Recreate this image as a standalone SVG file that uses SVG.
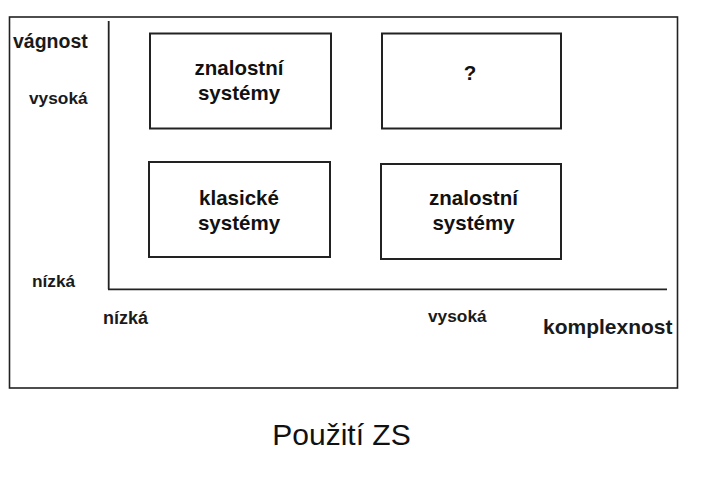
<svg xmlns="http://www.w3.org/2000/svg" width="710" height="477" viewBox="0 0 710 477">
<style>
.frame{fill:none;stroke:#222;stroke-width:1.6}
.box{fill:#fff;stroke:#222;stroke-width:2}
.axis{fill:none;stroke:#222;stroke-width:1.8}
.bl{font-family:"Liberation Sans",Arial,sans-serif;font-weight:bold;fill:#1a1a1a}
.bt{font-family:"Liberation Sans",Arial,sans-serif;font-weight:bold;font-size:20.5px;fill:#111;text-anchor:middle}
.cap{font-family:"Liberation Sans",Arial,sans-serif;font-size:30px;fill:#111;text-anchor:middle}
</style>
<rect width="710" height="477" fill="#fff"/>
<rect class="frame" x="9.5" y="17" width="668" height="371"/>
<g id="axes">
<line class="axis" x1="108.7" y1="21" x2="108.7" y2="289.3"/>
<line class="axis" x1="108" y1="289.3" x2="667" y2="289.3"/>
</g>
<g id="labels">
<text class="bl" x="13" y="48" font-size="19.5">vágnost</text>
<text class="bl" x="29" y="104" font-size="17.3">vysoká</text>
<text class="bl" x="32" y="287" font-size="17.3">nízká</text>
<text class="bl" x="103" y="324" font-size="18">nízká</text>
<text class="bl" x="428" y="322" font-size="17.3">vysoká</text>
<text class="bl" x="543" y="334" font-size="21">komplexnost</text>
</g>
<g id="node-zs-top">
<rect class="box" x="150" y="33.5" width="181" height="95"/>
<text class="bt" x="239" y="75">znalostní</text>
<text class="bt" x="239" y="100">systémy</text>
</g>
<g id="node-question">
<rect class="box" x="382" y="33.5" width="179" height="95"/>
<text class="bt" x="470" y="80" font-size="17">?</text>
</g>
<g id="node-klasicke">
<rect class="box" x="149" y="162" width="181" height="95"/>
<text class="bt" x="239" y="205">klasické</text>
<text class="bt" x="239" y="230">systémy</text>
</g>
<g id="node-zs-bottom">
<rect class="box" x="381" y="164" width="180" height="95"/>
<text class="bt" x="473.5" y="205">znalostní</text>
<text class="bt" x="473.5" y="230">systémy</text>
</g>
<g id="connectors"></g>
<text class="cap" x="341.5" y="445">Použití ZS</text>
</svg>
